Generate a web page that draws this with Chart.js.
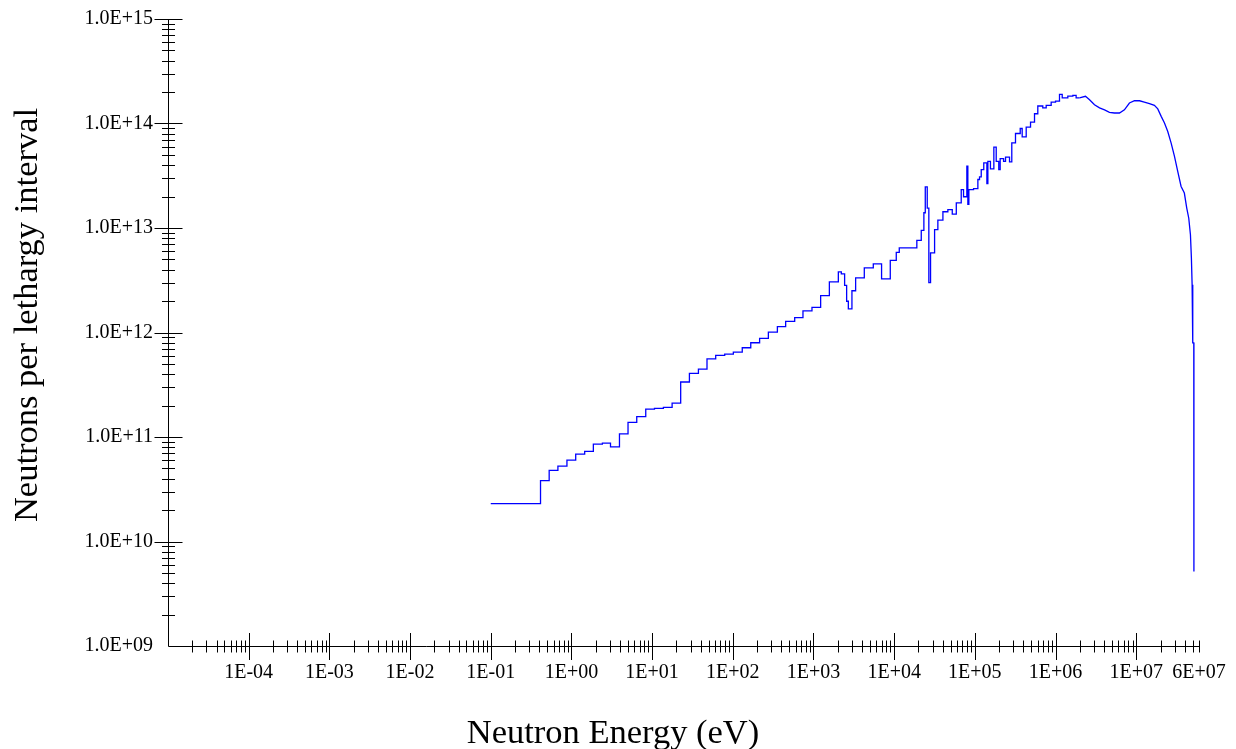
<!DOCTYPE html>
<html>
<head>
<meta charset="utf-8">
<script src="https://cdn.jsdelivr.net/npm/chart.js@4.4.1/dist/chart.umd.min.js"></script>
<style>
html,body{margin:0;padding:0;background:#fff;}
#wrap{width:1236px;height:749px;position:relative;}
</style>
</head>
<body>
<div id="wrap"><canvas id="c" width="1236" height="749"></canvas></div>
<script>
// ---- tick labels ----
const xTickValues = [1e-4, 1e-3, 1e-2, 1e-1, 1, 10, 100, 1e3, 1e4, 1e5, 1e6, 1e7, 6e7];
const xTickLabels = ['1E-04','1E-03','1E-02','1E-01','1E+00','1E+01','1E+02','1E+03','1E+04','1E+05','1E+06','1E+07','6E+07'];
const yTickValues = [1e9, 1e10, 1e11, 1e12, 1e13, 1e14, 1e15];
const yTickLabels = ['1.0E+09','1.0E+10','1.0E+11','1.0E+12','1.0E+13','1.0E+14','1.0E+15'];
const xTitle = 'Neutron Energy (eV)';
const yTitle = 'Neutrons per lethargy interval';

// ---- histogram part (bin lower edge energy in eV, neutrons per lethargy) ----
const stepEnergy = [0.1, 0.414, 0.53, 0.68, 0.88, 1.13, 1.46, 1.87, 2.42, 3.05,
  3.94, 5.03, 6.45, 8.34, 10.7, 13.8, 17.7, 22.6, 29, 37.5,
  47.9, 61.4, 79.4, 101.6, 131, 167, 215, 276, 357, 452,
  585, 741, 958, 1227, 1574, 2033, 2213, 2432, 2576, 2704,
  2997, 3330, 4265, 5512, 6982, 8950, 10620, 11570, 19100, 21670,
  23350, 24300, 25700, 26900, 28250, 31700, 34800, 40200, 46300, 52500,
  58900, 67800, 72400, 79600, 81900, 84300, 96400, 109000, 114300, 120000,
  129000, 141000, 145000, 156000, 172000, 184000, 198000, 206000, 227000, 240000,
  269000, 287000, 319000, 365000, 386000, 433000, 490000, 549000, 603000, 695000,
  766000, 883000, 1000000, 1120000, 1210000, 1420000, 1640000, 1800000, 1980000];
const stepFlux = [2.3e10, 3.83e10, 4.8e10, 5.27e10, 6.0e10, 6.86e10, 7.3e10, 8.55e10, 8.74e10, 8.05e10,
  1.07e11, 1.38e11, 1.57e11, 1.85e11, 1.88e11, 1.92e11, 2.11e11, 3.36e11, 4.06e11, 4.47e11,
  5.6e11, 6.04e11, 6.22e11, 6.5e11, 7.15e11, 7.98e11, 8.78e11, 1.01e12, 1.14e12, 1.28e12,
  1.39e12, 1.61e12, 1.74e12, 2.25e12, 3.05e12, 3.8e12, 3.64e12, 2.82e12, 1.99e12, 1.68e12,
  2.51e12, 3.33e12, 4.15e12, 4.53e12, 3.26e12, 4.91e12, 5.85e12, 6.44e12, 7.62e12, 9.5e12,
  1.4e13, 2.48e13, 1.55e13, 3.0e12, 5.77e12, 9.66e12, 1.19e13, 1.43e13, 1.5e13, 1.36e13,
  1.74e13, 2.33e13, 1.99e13, 3.9e13, 1.68e13, 2.33e13, 2.38e13, 2.91e13, 3.09e13, 3.62e13,
  4.2e13, 2.66e13, 4.35e13, 3.68e13, 5.93e13, 4.35e13, 3.62e13, 4.62e13, 4.35e13, 4.76e13,
  4.3e13, 6.53e13, 8.02e13, 8.96e13, 7.45e13, 9.22e13, 1.03e14, 1.24e14, 1.47e14, 1.41e14,
  1.49e14, 1.6e14, 1.64e14, 1.9e14, 1.76e14, 1.83e14, 1.86e14, 1.76e14, 1.76e14];

// ---- fine-binned high-energy part ----
const smoothEnergy = [1.98e6, 2.35e6, 2.64e6, 3.04e6, 3.51e6, 4.05e6, 4.66e6, 5.37e6, 6.2e6, 7.14e6,
  8.24e6, 9.51e6, 1.1e7, 1.26e7, 1.46e7, 1.68e7, 1.85e7, 2.04e7, 2.24e7, 2.46e7,
  2.71e7, 2.98e7, 3.27e7, 3.6e7, 3.95e7, 4.23e7, 4.48e7, 4.7e7, 4.83e7, 4.93e7,
  5.02e7, 5.17e7, 5.19e7];
const smoothFlux = [1.76e14, 1.82e14, 1.69e14, 1.51e14, 1.41e14, 1.35e14, 1.28e14, 1.26e14, 1.26e14, 1.35e14,
  1.57e14, 1.65e14, 1.65e14, 1.6e14, 1.55e14, 1.49e14, 1.38e14, 1.17e14, 1.01e14, 8.39e13,
  6.5e13, 4.84e13, 3.48e13, 2.5e13, 2.16e13, 1.55e13, 1.24e13, 8.61e12, 5.15e12, 2.86e12,
  7.95e11, 7.95e11, 5.15e9];

const FONT = 'Liberation Serif, Times New Roman, serif';

const axisPlugin = {
  id: 'axisDecor',
  afterDraw(chart) {
    const {ctx, chartArea: a, scales: {x, y}} = chart;
    ctx.save();
    ctx.strokeStyle = '#000';
    ctx.lineWidth = 1;
    const ax = Math.round(a.left) + 0.5;
    const ay = Math.round(a.bottom) + 0.5;
    ctx.beginPath();
    ctx.moveTo(ax, Math.round(a.top) + 0.5);
    ctx.lineTo(ax, ay);
    ctx.lineTo(Math.round(a.right) + 0.5, ay);
    for (let d = -5; d <= 7; d++) {
      for (let m = 1; m <= 9; m++) {
        const v = m * Math.pow(10, d);
        if (d === -5 && m === 1) continue;
        if (v > 6e7 * 1.0001) continue;
        const px = Math.round(x.getPixelForValue(v)) + 0.5;
        const len = m === 1 ? 13.5 : 6;
        ctx.moveTo(px, ay - len);
        ctx.lineTo(px, ay + len);
      }
    }
    for (let d = 9; d <= 15; d++) {
      for (let m = 1; m <= 9; m++) {
        const v = m * Math.pow(10, d);
        if (d === 9 && m === 1) continue;
        if (v > 1e15 * 1.0001) continue;
        const py = Math.round(y.getPixelForValue(v)) + 0.5;
        const len = m === 1 ? 14 : 6.5;
        ctx.moveTo(ax - len, py);
        ctx.lineTo(ax + len, py);
      }
    }
    ctx.stroke();

    ctx.fillStyle = '#000';
    ctx.font = '34.5px ' + FONT;
    ctx.textAlign = 'center';
    ctx.textBaseline = 'alphabetic';
    ctx.fillText(xTitle, 613, 743);
    ctx.translate(37, 315);
    ctx.rotate(-Math.PI / 2);
    ctx.fillText(yTitle, 0, 0);
    ctx.restore();
  }
};

new Chart(document.getElementById('c'), {
  type: 'line',
  data: {
    datasets: [
      {
        data: stepEnergy.map((e, i) => ({x: e, y: stepFlux[i]})),
        stepped: true,
        borderColor: '#0000ff',
        borderWidth: 1.3,
        pointRadius: 0,
        fill: false
      },
      {
        data: smoothEnergy.map((e, i) => ({x: e, y: smoothFlux[i]})),
        stepped: false,
        tension: 0,
        borderColor: '#0000ff',
        borderWidth: 1.3,
        pointRadius: 0,
        fill: false
      }
    ]
  },
  options: {
    responsive: false,
    animation: false,
    devicePixelRatio: 1,
    layout: {padding: {left: 0, right: 37, top: 19, bottom: 0}},
    plugins: {legend: {display: false}, tooltip: {enabled: false}},
    scales: {
      x: {
        type: 'logarithmic',
        min: 1e-5,
        max: 6e7,
        grid: {display: false, drawTicks: false},
        border: {display: false},
        afterBuildTicks: (s) => { s.ticks = xTickValues.map(v => ({value: v})); },
        afterFit: (s) => { s.height = 103; s.paddingLeft = 0; s.paddingRight = 0; },
        ticks: {
          autoSkip: false,
          maxRotation: 0,
          minRotation: 0,
          padding: 15,
          color: '#000',
          font: {family: FONT, size: 20},
          callback: (v, i) => xTickLabels[i]
        }
      },
      y: {
        type: 'logarithmic',
        min: 1e9,
        max: 1e15,
        grid: {display: false, drawTicks: false},
        border: {display: false},
        afterBuildTicks: (s) => { s.ticks = yTickValues.map(v => ({value: v})); },
        afterFit: (s) => { s.width = 168; s.paddingTop = 0; s.paddingBottom = 0; },
        ticks: {
          autoSkip: false,
          padding: 15,
          color: '#000',
          font: {family: FONT, size: 20},
          callback: (v, i) => yTickLabels[i]
        }
      }
    }
  },
  plugins: [axisPlugin]
});
</script>
</body>
</html>
